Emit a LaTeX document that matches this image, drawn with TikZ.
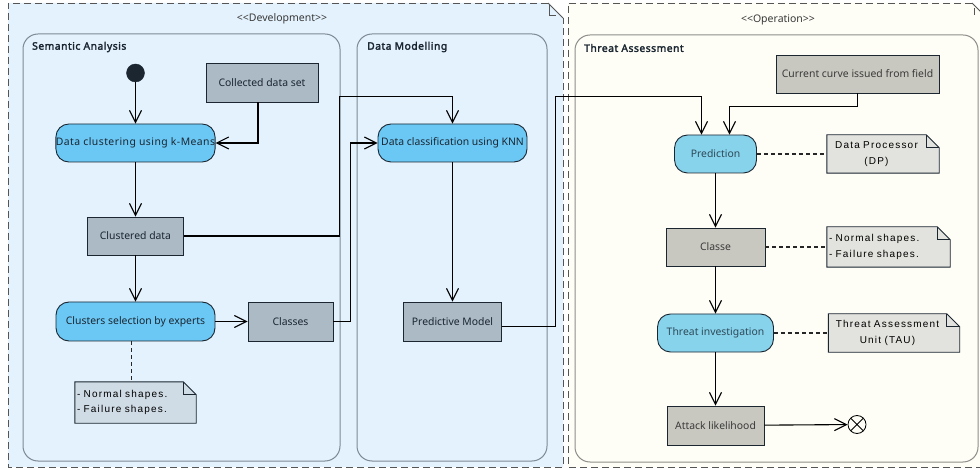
\documentclass[tikz,border=0pt]{standalone}
\usepackage{fontspec}
\setmainfont{Noto Sans}
\newfontfamily\notefont{Liberation Sans}[LetterSpace=12]
\newfontfamily\titlefont{Noto Sans}[FakeBold=2.5,LetterSpace=5]
\newfontfamily\widefont{Noto Sans}[LetterSpace=4.3]
\usetikzlibrary{arrows.meta,calc}
\pgfdeclarelayer{bg}
\pgfdeclarelayer{notebg}
\pgfsetlayers{bg,notebg,main}
\definecolor{devfill}{HTML}{E3F2FD}
\definecolor{opfill}{HTML}{FEFEF6}
\definecolor{pkgline}{HTML}{555555}
\definecolor{laneL}{HTML}{7E8A96}
\definecolor{laneR}{HTML}{8E8E8A}
\definecolor{actL}{HTML}{6BC8F5}
\definecolor{actR}{HTML}{87D3EC}
\definecolor{objL}{HTML}{ABBAC5}
\definecolor{objR}{HTML}{C9C8C0}
\definecolor{noteL}{HTML}{CFDBE5}
\definecolor{noteR}{HTML}{E2E2DE}
\definecolor{ink}{HTML}{1B2631}
\definecolor{inkR}{HTML}{3A3A3A}
\definecolor{inkA}{HTML}{2E4A58}
\newcommand\drawnotefr[2]{%
  \begin{pgfonlayer}{notebg}
    \filldraw[fill=#2, draw=ink, line width=0.9pt]
      (#1.north west) -- (#1.north east) -- ([xshift=13pt,yshift=-13pt]#1.north east)
      -- ([xshift=13pt]#1.south east) -- (#1.south west) -- cycle;
    \draw[ink, line width=0.9pt] (#1.north east) |- ([xshift=13pt,yshift=-13pt]#1.north east);
  \end{pgfonlayer}}
\tikzset{
  base/.style={font=\fontsize{10.4}{12}\selectfont, inner sep=0pt, align=center},
  actl/.style={base, draw=ink, line width=0.9pt, fill=actL, rounded corners=13pt, text=ink},
  actr/.style={base, draw=ink, line width=0.9pt, fill=actR, rounded corners=13pt, text=inkA},
  objl/.style={base, draw=ink, line width=0.9pt, fill=objL, text=ink},
  objr/.style={base, draw=ink, line width=0.9pt, fill=objR, text=inkR},
  notebox/.style={font=\notefont\fontsize{10}{15.5}\selectfont, inner xsep=2pt, inner ysep=0pt, text=black},
  lanebox/.style={rounded corners=15pt, line width=1pt},
  lanetitle/.style={font=\titlefont\fontsize{10.3}{12}\selectfont, text=ink, inner sep=0pt, anchor=west},
  pkgtitle/.style={font=\fontsize{10.5}{12}\selectfont, text=inkR, inner sep=0pt},
  pkgdash/.style={draw=pkgline, line width=0.9pt, dash pattern=on 7pt off 4pt},
  flow/.style={line width=1.1pt, draw=black, -{Straight Barb[length=12pt,width=12pt,line width=1.1pt]}},
  dashlink/.style={line width=1.1pt, draw=black!85, dash pattern=on 4pt off 3pt},
}
\begin{document}
\begin{tikzpicture}[x=1pt,y=-1pt]
\useasboundingbox (0,0) rectangle (980,470);
% packages
\begin{pgfonlayer}{bg}
  \fill[white] (0,0) rectangle (980,470);
  \fill[devfill] (8,3) -- (548,3) -- (563,18) -- (563,467) -- (8,467) -- cycle;
  \draw[pkgdash] (548,3) -- (8,3) -- (8,467) -- (563,467) -- (563,18);
  \draw[pkgline, line width=0.9pt] (548,3) -- (563,18);
  \draw[pkgline, line width=0.9pt] (549,4) -- (549,15) -- (556,15);
  \fill[opfill] (568,3) -- (972,3) -- (987,18) -- (987,467) -- (568,467) -- cycle;
  \draw[pkgdash] (972,3) -- (568,3) -- (568,467) -- (987,467);
  \draw[pkgline, line width=0.9pt] (972,3) -- (987,18);
  \draw[pkgline, line width=0.9pt] (974,8) -- (974,15);
\end{pgfonlayer}
\node[pkgtitle] (devt) at (282,19) {<\kern0pt<Development>\kern0pt>};
\node[pkgtitle] (opt) at (778,20) {<\kern0pt<Operation>\kern0pt>};
% lanes
\node[lanebox, draw=laneL, minimum width=317pt, minimum height=427pt] (sa) at (181.5,247.5) {};
\node[lanebox, draw=laneL, minimum width=190pt, minimum height=427pt] (dm) at (452,247.5) {};
\node[lanebox, draw=laneR, minimum width=403pt, minimum height=427pt] (ta) at (776.5,248.5) {};
\node[lanetitle] (sat) at (32,47) {Semantic Analysis};
\node[lanetitle] (dmt) at (367,47) {Data Modelling};
\node[lanetitle] (tat) at (584,48) {Threat Assessment};
% left side
\node[circle, fill=ink, draw=ink, minimum size=18pt, inner sep=0pt] (start) at (135.5,73) {};
\node[objl, minimum width=112pt, minimum height=39pt] (cds) at (262,82.5) {Collected data set};
\node[actl, minimum width=159pt, minimum height=38pt, font=\widefont\fontsize{10.4}{12}\selectfont] (dc) at (135.5,143) {Data clustering using k-Means};
\node[objl, minimum width=96pt, minimum height=38pt] (cd) at (135.5,236) {Clustered data};
\node[actl, minimum width=159pt, minimum height=39pt] (cs) at (135.5,321.5) {Clusters selection by experts};
\node[objl, minimum width=85pt, minimum height=39pt] (cl) at (290.5,321.5) {Classes};
\node[notebox, text width=104pt, align=left, minimum height=41pt] (n1) at (129,402.5) {- Normal shapes.\\- Failure shapes.};
\drawnotefr{n1}{noteL}
\node[actl, minimum width=149pt, minimum height=38pt] (knn) at (452.5,143) {Data classification using KNN};
\node[objl, minimum width=98pt, minimum height=39pt] (pm) at (452.5,321.5) {Predictive Model};
% right side
\node[objr, minimum width=163pt, minimum height=38pt] (cc) at (857.5,74) {Current curve issued from field};
\node[actr, minimum width=82pt, minimum height=38pt] (pred) at (715.5,154) {Prediction};
\node[notebox, text width=95pt, align=center, minimum height=38pt] (dp) at (876.5,154) {Data Processor\\(DP)};
\drawnotefr{dp}{noteR}
\node[objr, minimum width=99pt, minimum height=38pt] (classe) at (715.5,247) {Classe};
\node[notebox, text width=106pt, align=left, minimum height=40pt] (n2) at (882,247) {- Normal shapes.\\- Failure shapes.};
\drawnotefr{n2}{noteR}
\node[actr, minimum width=116pt, minimum height=38pt] (ti) at (715.5,333) {Threat investigation};
\node[notebox, text width=114pt, align=center, minimum height=38pt] (tau) at (887.5,333) {Threat Assessment\\Unit (TAU)};
\drawnotefr{tau}{noteR}
\node[objr, minimum width=97pt, minimum height=39pt] (al) at (715.5,425.5) {Attack likelihood};
\node[circle, draw=black, line width=0.8pt, minimum size=18pt, inner sep=0pt,
  path picture={\draw[line width=0.8pt] (path picture bounding box.north west) -- (path picture bounding box.south east)
  (path picture bounding box.north east) -- (path picture bounding box.south west);}] (end) at (857,424.5) {};
% connectors
\draw[flow] (start) -- (start |- dc.north);
\draw[flow] ([xshift=-4pt]cds.south) |- (dc.east);
\draw[flow] (dc.south) -- (dc.south |- cd.north);
\draw[flow] (cd.south) -- (cd.south |- cs.north);
\draw[flow] (cs) -- (cl);
\draw[dashlink] ([xshift=-4pt]cs.south) -- ([xshift=-4pt]cs.south |- n1.north);
\draw[flow] (cd.east) -| (339.5,96.5) -| (knn.north);
\draw[flow] (cl.east) -| (350.5,143) -- (knn.west);
\draw[flow] (knn.south) -- (knn.south |- pm.north);
\draw[flow] ([yshift=-5pt]pm.east) -| (555.5,96.5) -| ([xshift=-14pt]pred.north);
\draw[flow] (cc.south) |- (729.5,106.5) -- ([xshift=14pt]pred.north);
\draw[dashlink] (pred) -- (dp);
\draw[flow] (pred.south) -- (pred.south |- classe.north);
\draw[dashlink] (classe) -- (n2);
\draw[flow] (classe.south) -- (classe.south |- ti.north);
\draw[dashlink] (ti) -- (tau);
\draw[flow] (ti.south) -- (ti.south |- al.north);
\draw[flow] (al) -- (end);
\end{tikzpicture}
\end{document}
